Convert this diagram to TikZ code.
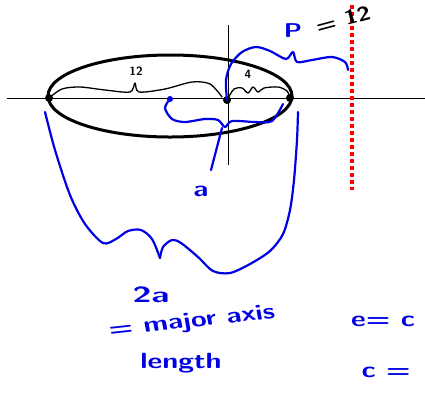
\documentclass[tikz,border=0pt]{standalone}
\usetikzlibrary{positioning}

\begin{document}
\begin{tikzpicture}[x=1pt,y=-1pt,
  pen/.style={line width=1.3pt,line cap=round,line join=round},
  ink/.style={line width=2.2pt,line cap=round,line join=round,blue!90!black},
  dot/.style={circle,fill,inner sep=0pt,minimum size=8pt},
  tag/.style={font=\sffamily\bfseries\fontsize{12}{13}\selectfont,inner sep=0pt},
  scrawl/.style={font=\sffamily\bfseries\fontsize{22}{24}\selectfont,text=blue!90!black,inner sep=0pt,xscale=1.3}]
  \useasboundingbox (0,0) rectangle (425,392);

  % axes
  \draw[line width=0.8pt] (7,98) -- (425,98);
  \draw[line width=0.8pt] (228,25) -- (228,165);

  % ellipse, vertices and focus
  \draw[line width=3pt] (170,96) ellipse [x radius=122, y radius=41];
  \node[dot] (vl) at (49,98) {};
  \node[dot] (vr) at (290,98) {};
  \node[dot] (f) at (227,100) {};
  \node[dot,blue!90!black,minimum size=6pt] (o) at (170,99) {};

  % directrix
  \draw[red,line width=3.5pt,dash pattern=on 4pt off 3pt] (352,5) -- (352,190);

  % black braces
  \draw[pen] plot[smooth] coordinates {(vl) (62,89) (80,87) (105,90) (130,92)
    (135,83) (139,92) (165,89) (192,82) (210,84) (222,97)};
  \node[tag] (twelve) at (136,71) {12};
  \draw[pen] plot[smooth] coordinates {(f) (234,89) (242,88) (248,93)
    (253,87) (258,92) (264,88) (278,87) (287,91) (vr)};
  \node[tag] (four) at (248,74) {4};

  % blue braces
  \draw[ink] plot[smooth] coordinates {(f) (226,80) (231,64) (242,52) (256,47)
    (270,51) (286,59) (293,52) (297,62) (312,60) (332,57) (345,62) (348,70)};
  \node[scrawl,font=\sffamily\bfseries\fontsize{20}{22}\selectfont] (p) at (293,31) {P};
  \node[font=\sffamily\bfseries\fontsize{20}{22}\selectfont,rotate=15,inner sep=0pt,xscale=1.2] (p12) at (343,19) {= 12};

  \coordinate (ra) at (283,104);
  \draw[ink] plot[smooth] coordinates {(o) (165,108) (172,119) (185,122)
    (205,119) (218,120) (225,127) (232,121) (255,122) (272,121) (ra)};
  \node[scrawl] (a) at (201,191) {a};
  \coordinate (stem) at (222,128);
  \draw[ink] (stem) -- (211,170);

  \coordinate (tl) at (45,112);
  \coordinate (tr) at (298,112);
  \coordinate (notch) at (160,258);
  \draw[ink] plot[smooth] coordinates {(tl) (55,150) (70,195) (85,224)
    (103,243) (116,239) (128,231) (141,230) (152,239) (notch)};
  \draw[ink] plot[smooth] coordinates {(notch) (163,247) (172,240) (181,243)
    (198,257) (213,271) (230,273) (250,264) (270,251) (283,234) (290,210)
    (294,180) (297,140) (tr)};

  % notes
  \node[scrawl,xscale=1.2] (twoa) at (151,295) {2a};
  \node[scrawl,rotate=8] (major) at (192,322) {= major axis};
  \node[scrawl] (length) at (181,363) {length};
  \node[scrawl] (ecc) at (383,321) {e= c};
  \node[scrawl] (c) at (386,372) {c =};
\end{tikzpicture}
\end{document}
